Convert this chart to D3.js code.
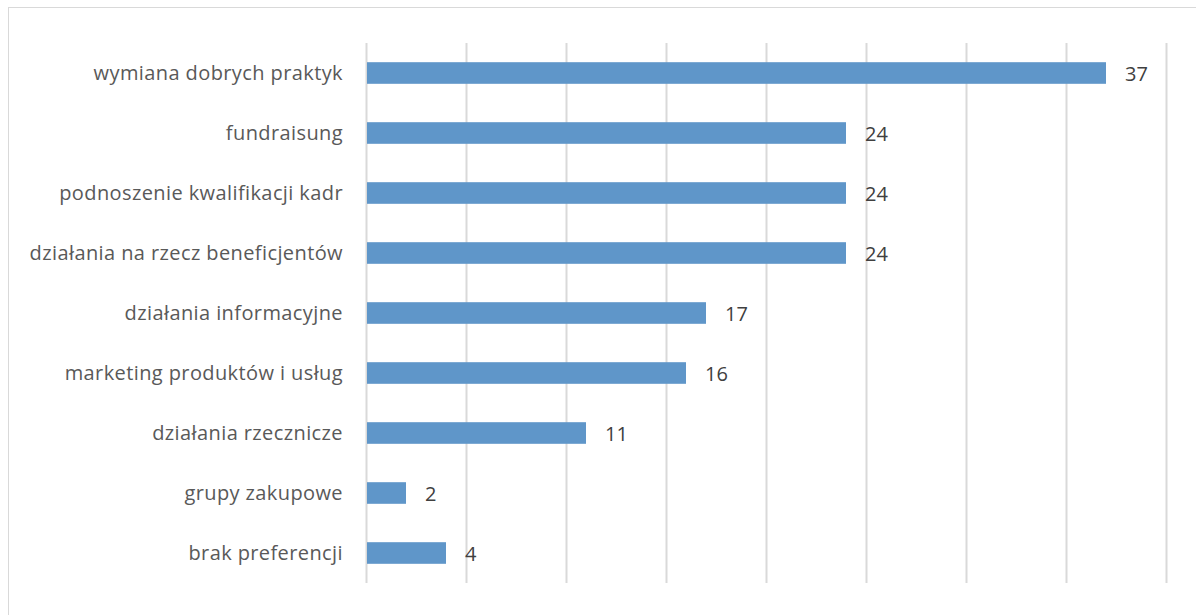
<!DOCTYPE html>
<html>
<head>
<meta charset="utf-8">
<script src="https://cdn.jsdelivr.net/npm/d3@7"></script>
<style>
  body { margin: 0; background: #fff; }
  svg { display: block; font-family: "Open Sans", sans-serif; }
</style>
</head>
<body>
<div id="chart"></div>
<script>
const width = 1196, height = 615;

const categories = [
  "wymiana dobrych praktyk",
  "fundraisung",
  "podnoszenie kwalifikacji kadr",
  "działania na rzecz beneficjentów",
  "działania informacyjne",
  "marketing produktów i usług",
  "działania rzecznicze",
  "grupy zakupowe",
  "brak preferencji"
];
const values = [37, 24, 24, 24, 17, 16, 11, 2, 4];
const xTicks = [0, 5, 10, 15, 20, 25, 30, 35, 40];

const margin = {left: 366, right: 30, top: 43, bottom: 32};

let svg = d3.select("#chart")
  .append("svg")
  .attr("width", width)
  .attr("height", height);

// chart frame (runs off the right and bottom edge)
svg.append("rect")
  .attr("x", 8.5).attr("y", 7.5)
  .attr("width", width + 20).attr("height", height + 20)
  .attr("fill", "none")
  .attr("stroke", "#d9d9d9");

let x = d3.scaleLinear().domain([0, 40]).range([margin.left, 1166]);
let y = d3.scaleBand().domain(categories)
  .range([margin.top, height - margin.bottom])
  .paddingInner(0.64).paddingOuter(0.32);

// vertical gridlines
svg.append("g")
  .selectAll("line")
  .data(xTicks)
  .enter().append("line")
  .attr("x1", (d) => x(d) + 0.5).attr("x2", (d) => x(d) + 0.5)
  .attr("y1", margin.top).attr("y2", 583)
  .attr("stroke", "#d9d9d9")
  .attr("stroke-width", 2);

svg.append("g")
  .selectAll("rect")
  .data(values)
  .enter().append("rect")
  .attr("x", x(0) + 1)
  .attr("y", (d, i) => y(categories[i]))
  .attr("width", (d) => x(d) - x(0) - 1)
  .attr("height", y.bandwidth())
  .attr("fill", "#5f96c9");

// category labels
svg.append("g")
  .selectAll("text")
  .data(categories)
  .enter().append("text")
  .attr("x", 343)
  .attr("y", (d) => y(d) + y.bandwidth() / 2)
  .attr("dy", "0.35em")
  .attr("text-anchor", "end")
  .attr("font-size", 20)
  .attr("letter-spacing", "0.4px")
  .attr("fill", "#595959")
  .text((d) => d);

// value labels
svg.append("g")
  .selectAll("text")
  .data(values)
  .enter().append("text")
  .attr("x", (d) => x(d) + 19)
  .attr("y", (d, i) => y(categories[i]) + y.bandwidth() / 2)
  .attr("dy", "0.4em")
  .attr("font-size", 20)
  .attr("fill", "#404040")
  .text((d) => d);
</script>
</body>
</html>
